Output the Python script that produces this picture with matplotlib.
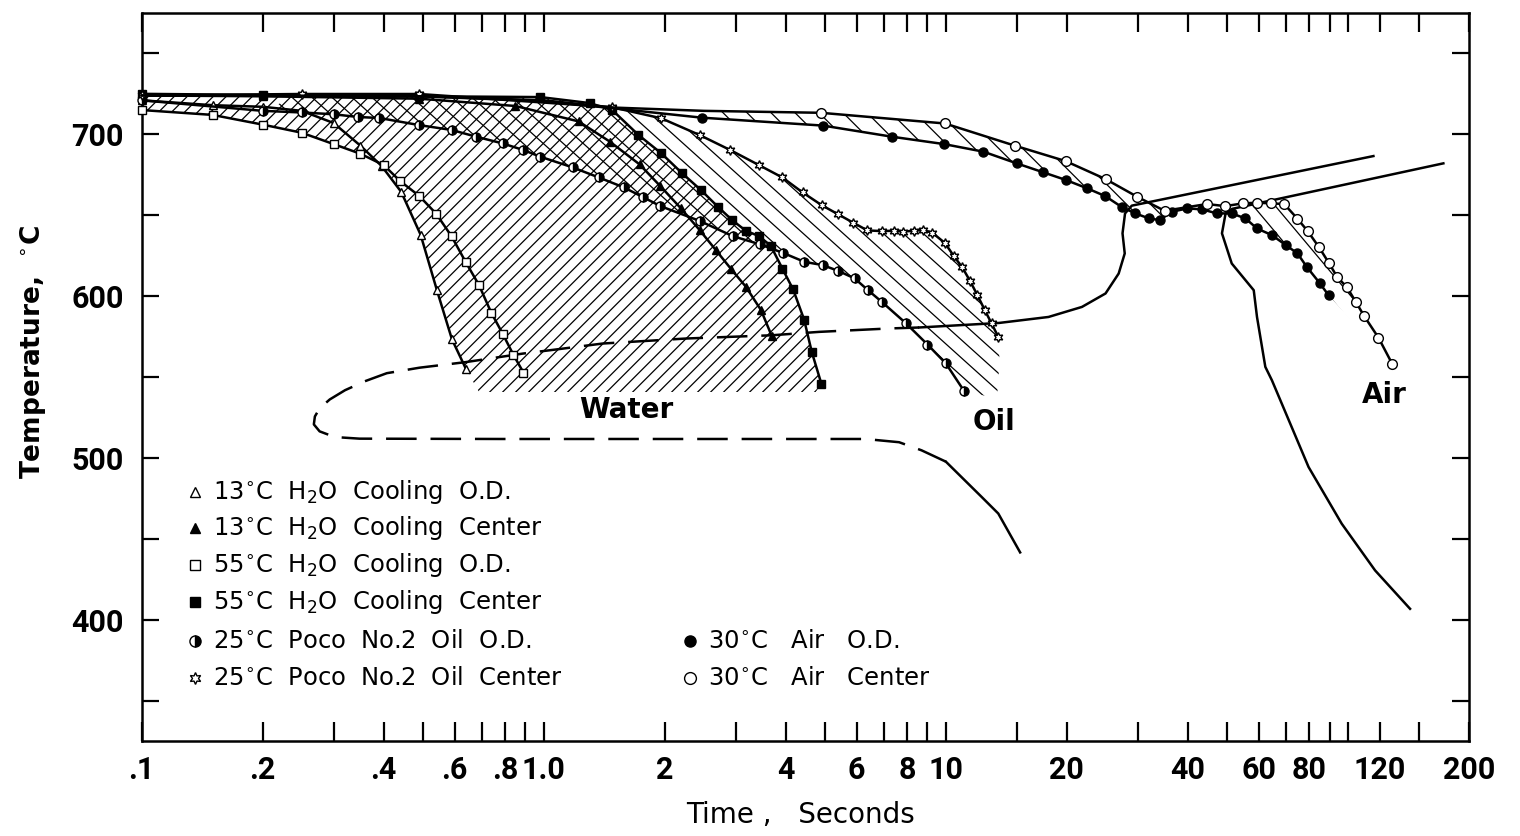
import numpy as np
import matplotlib
matplotlib.use("Agg")
import matplotlib.pyplot as plt
from matplotlib.patches import Polygon

plt.rcParams["font.family"] = ["DejaVu Sans"]
plt.rcParams["lines.scale_dashes"] = False

# ---- cooling curves: time (s) vs temperature (deg C) ----
# 13 C water, O.D. (open triangles)
w13_od_t = [0.10, 0.15, 0.20, 0.25, 0.30, 0.35, 0.395, 0.442, 0.494, 0.542, 0.591, 0.641]
w13_od_T = [721, 718, 717, 714.5, 707, 693, 680.5, 664.5, 638, 604, 573.5, 555]
# 13 C water, center (filled triangles)
w13_c_t = [0.10, 0.20, 0.49, 0.85, 1.22, 1.46, 1.73, 1.95, 2.19, 2.44, 2.68, 2.92, 3.18, 3.47, 3.69]
w13_c_T = [724, 723.5, 722, 717.5, 708, 695.5, 681.5, 668, 654.5, 641, 628.5, 617, 606, 591.5, 575.5]
# 55 C water, O.D. (open squares)
w55_od_t = [0.10, 0.15, 0.20, 0.25, 0.30, 0.35, 0.40, 0.44, 0.49, 0.54, 0.59, 0.64, 0.69, 0.74, 0.79, 0.84, 0.89]
w55_od_T = [715, 712, 706, 701, 694, 688, 681, 671, 662, 651, 637, 621, 607, 590, 577, 564, 553]
# 55 C water, center (filled squares)
w55_c_t = [0.10, 0.20, 0.49, 0.98, 1.30, 1.48, 1.72, 1.96, 2.21, 2.46, 2.71, 2.94, 3.18, 3.43, 3.67,
           3.92, 4.17, 4.44, 4.64, 4.90]
w55_c_T = [725, 724.3, 723.5, 723, 719.3, 715, 699.6, 688.3, 675.9, 665.6, 655.3, 647.1, 640.5, 637.2,
           631.2, 617.2, 604.3, 585.7, 565.7, 546.2]
# 25 C Poco No.2 oil, O.D. (half filled circles)
oil_od_t = [0.10, 0.20, 0.25, 0.30, 0.345, 0.39, 0.49, 0.59, 0.68, 0.79, 0.89, 0.98, 1.18, 1.37, 1.58,
            1.77, 1.95, 2.44, 2.95, 3.44, 3.93, 4.45, 4.94, 5.39, 5.93, 6.39, 6.93, 7.94, 9.0, 10.0, 11.1]
oil_od_T = [721, 714.5, 713.5, 712.4, 710.7, 710.1, 705.7, 702.7, 698.5, 694.4, 690.3, 686.2, 679.6,
            673.4, 667.3, 661.1, 655.7, 646.6, 637.2, 632.2, 626.9, 621.3, 619.3, 615.8, 611.1, 604.0,
            596.6, 583.6, 570.3, 558.6, 541.6]
# 25 C Poco No.2 oil, center (stars)
oil_c_t = [0.10, 0.25, 0.49, 1.48, 1.96, 2.44, 2.91, 3.43, 3.92, 4.40, 4.91, 5.40, 5.89, 6.38, 6.93,
           7.43, 7.84, 8.33, 8.77, 9.25, 9.95, 10.47, 10.98, 11.48, 11.97, 12.51, 12.99, 13.50]
oil_c_T = [724, 724.9, 724.9, 716.7, 709.9, 699.6, 690.3, 681.0, 673.4, 664.2, 656.3, 650.6, 645.4,
           640.7, 640.3, 640.5, 640.0, 640.5, 641, 639.3, 632.9, 624.8, 618.0, 609.6, 600.9, 591.3,
           583.3, 575.0]
# 30 C air, O.D. (filled circles)
air_od_t = [0.10, 0.49, 1.0, 1.5, 2.47, 4.95, 7.36, 9.89, 12.4, 15.0, 17.4, 19.9, 22.5, 24.9, 27.4,
            29.6, 32.0, 34.0, 36.5, 39.8, 43.4, 47.2, 51.4, 55.6, 59.4, 64.7, 70.1, 74.9, 79.0, 85.0, 89.5]
air_od_T = [724, 723.5, 720.5, 716, 710.3, 705.4, 698.5, 694.0, 689.3, 682.1, 676.7, 671.8, 666.6,
            661.9, 655.1, 651.2, 648.1, 647.1, 652.2, 654.3, 653.7, 651.2, 651.2, 648.1, 641.9, 637.8,
            631.6, 626.5, 618.2, 608.3, 600.7]
# 30 C air, center (open circles)
air_c_t = [0.10, 0.49, 1.0, 1.5, 2.5, 4.89, 9.95, 14.85, 19.85, 24.95, 29.9, 35.0, 44.6, 49.5, 54.8,
           59.4, 64.5, 69.4, 74.9, 79.5, 84.8, 89.5, 94.0, 99.5, 104.6, 109.7, 119.1, 129.0]
air_c_T = [724, 723.5, 721, 716.5, 714.5, 713.3, 706.7, 693.0, 683.5, 672.4, 661.5, 652.8, 657.0,
           655.7, 657.4, 657.8, 657.4, 657.0, 647.9, 640.1, 630.2, 620.9, 612.0, 605.5, 596.6, 587.9,
           574.5, 558.1]

# ---- transformation curves ----
ts_low_t = [15.3, 13.5, 12.3, 10.0]
ts_low_T = [442, 466, 476, 498]
ts_dash_t = [10.0, 8.7, 7.65, 6.3, 2.4, 0.78, 0.348, 0.302, 0.277, 0.268, 0.2696, 0.277, 0.2936,
             0.3204, 0.3587, 0.407, 0.491, 0.638, 0.887, 1.07, 1.40, 2.26, 3.69, 4.84, 7.22, 8.58]
ts_dash_T = [498, 505, 510, 512, 512, 512, 512.2, 513.2, 516.7, 521, 525.9, 530.9, 536.4, 542.1,
             547.6, 552.6, 556, 559.4, 564.7, 567.2, 570.9, 574, 576, 578.1, 580.2, 580.8]
ts_up_t = [8.58, 13.55, 18.0, 21.8, 24.95, 26.9, 27.85, 27.5, 27.9, 29.0, 115.7]
ts_up_T = [580.8, 583.6, 587.3, 593.5, 601.8, 614.1, 626.5, 638.9, 651.2, 656.0, 686.6]
tf_t = [142.7, 116.8, 96.5, 79.8, 67.9, 64.7, 62.3, 59.4, 58.3, 51.4, 48.6, 49.6, 51.5, 172.7]
tf_T = [407.2, 430.9, 459.7, 494.7, 535.9, 548.2, 556.5, 587.3, 603.8, 620.3, 638.9, 651.0, 654.0, 682.1]

hatch_floor = 541

# ---- figure ----
fig = plt.figure(figsize=(15.2, 8.36), dpi=100)
ax = fig.add_axes([141.7 / 1520, 1 - 740.7 / 836, (1469 - 141.7) / 1520, (740.7 - 13.3) / 836])
ax.set_xscale("log")
ax.set_xlim(0.1, 200)
ax.set_ylim(325.8, 774.7)
for s in ax.spines.values():
    s.set_linewidth(1.8)

xt = [0.1, 0.2, 0.3, 0.4, 0.5, 0.6, 0.7, 0.8, 0.9, 1, 2, 3, 4, 5, 6, 7, 8, 9, 10, 15, 20, 30, 40,
      50, 60, 70, 80, 90, 100, 120, 150, 200]
xlab = {0.1: ".1", 0.2: ".2", 0.4: ".4", 0.6: ".6", 0.8: ".8", 1: "1.0", 2: "2", 4: "4", 6: "6",
        8: "8", 10: "10", 20: "20", 40: "40", 60: "60", 80: "80", 120: "120", 200: "200"}
ax.set_xticks(xt, [xlab.get(v, "") for v in xt])
yt = np.arange(350, 751, 50)
ax.set_yticks(yt, [str(v) if v % 100 == 0 else "" for v in yt])
ax.minorticks_off()
ax.tick_params(direction="in", top=True, right=True, width=1.6, labelsize=22)
ax.tick_params(axis="x", length=14, pad=10)
ax.tick_params(axis="y", length=12, pad=13)
for lab in ax.get_xticklabels() + ax.get_yticklabels():
    lab.set_family(["Roboto", "DejaVu Sans"])
    lab.set_fontweight("bold")


def hatch(xs, ys, angle, step, lw=0.9):
    poly = Polygon(np.column_stack([xs, ys]), closed=True, facecolor="none",
                   edgecolor="none", transform=ax.transData)
    ax.add_patch(poly)
    bb = ax.get_window_extent()
    w, h = bb.width, bb.height
    run = h / np.tan(np.radians(angle))
    for c in np.arange(-abs(run) - w, w + abs(run), step):
        ln, = ax.plot([c / w, (c + run) / w], [0, 1], color="k", lw=lw,
                      transform=ax.transAxes, zorder=1)
        ln.set_clip_path(poly)


def cat(*parts):
    return np.concatenate([np.asarray(p, float) for p in parts])


# water band: lower envelope of the two O.D. curves up to the 55 C center curve
sq_t, sq_T = np.array(w55_od_t), np.array(w55_od_T)
tr_t, tr_T = np.array(w13_od_t), np.array(w13_od_T)
wx = cat(sq_t[sq_t <= 0.40], tr_t[tr_t > 0.40], [0.69, 4.75], w55_c_t[::-1])
wy = cat(sq_T[sq_t <= 0.40], tr_T[tr_t > 0.40], [hatch_floor, hatch_floor], w55_c_T[::-1])
hatch(wx, wy, 45, 13)

# oil band between O.D. and center
ot, oT = np.array(oil_od_t), np.array(oil_od_T)
ct, cT = np.array(oil_c_t), np.array(oil_c_T)
ox = cat(ot[ot >= 0.2], [13.4, 13.6], ct[ct >= 0.2][::-1])
oy = cat(oT[ot >= 0.2], [537, 560], cT[ct >= 0.2][::-1])
hatch(ox, oy, -42, 20)

# air bands
at, aT = np.array(air_od_t), np.array(air_od_T)
bt, bT = np.array(air_c_t), np.array(air_c_T)
m1a, m1b = (at >= 2.4) & (at <= 34), (bt >= 2.4) & (bt <= 35)
hatch(cat(bt[m1b], at[m1a][::-1]), cat(bT[m1b], aT[m1a][::-1]), -45, 24)
m2a, m2b = at >= 55, bt >= 54
hatch(cat(bt[m2b], at[m2a][::-1]), cat(bT[m2b], aT[m2a][::-1]), -50, 22)

# transformation curves
ax.plot(ts_low_t, ts_low_T, color="k", lw=1.8, zorder=2)
ax.plot(ts_dash_t, ts_dash_T, color="k", lw=1.8, ls=(0, (22, 10)), zorder=2)
ax.plot(ts_up_t, ts_up_T, color="k", lw=1.8, zorder=2)
ax.plot(tf_t, tf_T, color="k", lw=1.8, zorder=2)

star = (6, 1, 0)
series = [
    (w13_od_t, w13_od_T, dict(marker="^", mfc="white", ms=6), None),
    (w13_c_t, w13_c_T, dict(marker="^", mfc="k", ms=6), None),
    (w55_od_t, w55_od_T, dict(marker="s", mfc="white", ms=6), None),
    (w55_c_t, w55_c_T, dict(marker="s", mfc="k", ms=6), None),
    (oil_od_t, oil_od_T, dict(marker="o", mfc="k", mfcalt="white", fillstyle="right", ms=6.5), None),
    (oil_c_t, oil_c_T, dict(marker=star, mfc="white", ms=7), None),
    (air_od_t, air_od_T, dict(marker="o", mfc="k", ms=6.5), slice(4, None)),
    (air_c_t, air_c_T, dict(marker="o", mfc="white", ms=7), slice(5, None)),
]
for t, T, st, every in series:
    ax.plot(t, T, color="k", lw=1.8, mec="k", mew=1.0, clip_on=False, zorder=3,
            markevery=every, **st)

# region labels
ax.text(1.6, 529.7, "Water", fontsize=20, fontweight="bold", ha="center", va="center")
ax.text(13.2, 522.3, "Oil", fontsize=20, fontweight="bold", ha="center", va="center")
ax.text(123, 539, "Air", fontsize=20, fontweight="bold", ha="center", va="center")

# key
deg = r"$^{\circ}$"
key = [
    (195, 213, 492, "13" + deg + "C  H$_2$O  Cooling  O.D.", series[0][2]),
    (195, 213, 528, "13" + deg + "C  H$_2$O  Cooling  Center", series[1][2]),
    (195, 213, 565, "55" + deg + "C  H$_2$O  Cooling  O.D.", series[2][2]),
    (195, 213, 602, "55" + deg + "C  H$_2$O  Cooling  Center", series[3][2]),
    (195, 213, 641, "25" + deg + "C  Poco  No.2  Oil  O.D.", series[4][2]),
    (195, 213, 678, "25" + deg + "C  Poco  No.2  Oil  Center", series[5][2]),
    (690, 708, 641, "30" + deg + "C   Air   O.D.", series[6][2]),
    (690, 708, 678, "30" + deg + "C   Air   Center", series[7][2]),
]
for mx, tx, py, label, st in key:
    kst = dict(st, ms=st["ms"] + 1.5)
    ax.plot([mx / 1520], [1 - py / 836], transform=fig.transFigure, color="k", mec="k",
            mew=1.0, clip_on=False, **kst)
    fig.text(tx / 1520, 1 - py / 836, label, fontsize=17.5, ha="left", va="center")

fig.text(33 / 1520, 1 - 352 / 836, "Temperature,  " + deg + "C", rotation=90, fontsize=19,
         fontweight="bold", ha="center", va="center")
fig.text(800 / 1520, 1 - 815 / 836, "Time ,   Seconds", fontsize=20, ha="center", va="center")

fig.savefig("out.png", dpi=100)
